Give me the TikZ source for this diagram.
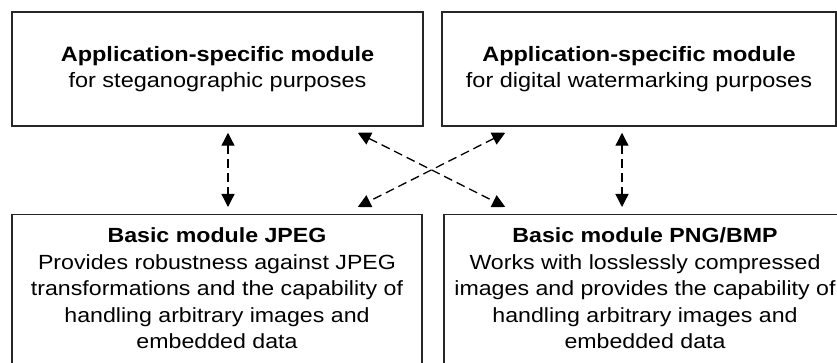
\documentclass[tikz,border=0pt]{standalone}
\usepackage{fontspec}
\setmainfont{Liberation Sans}[FakeStretch=1.13]
\usetikzlibrary{arrows.meta, positioning}
\tikzstyle{modbox} = [rectangle, draw=black!85, line width=1.5pt, align=center, inner xsep=0pt, font=\fontsize{20.5}{26.5}\selectfont]
\tikzstyle{appbox} = [modbox, minimum height=114pt, font=\fontsize{20.8}{26}\selectfont]
\tikzstyle{basebox} = [modbox, anchor=north, inner ysep=13pt, text depth=40pt]
\tikzstyle{link} = [draw, line width=1.3pt, dash pattern=on 9pt off 5pt, {Triangle[length=13pt,width=13pt]}-{Triangle[length=13pt,width=13pt]}]

\begin{document}
\begin{tikzpicture}[x=1pt, y=-1pt]
			\clip (0,0) rectangle (837,363);
			\node [appbox, minimum width=411pt] (steg) at (217.5, 69) {\textbf{Application-specific module}\\for steganographic purposes};
			\node [appbox, minimum width=394pt] (wmark) at (639, 69) {\textbf{Application-specific module}\\for digital watermarking purposes};
			\node [basebox, minimum width=410pt] (jpeg) at (217, 214) {\textbf{Basic module JPEG}\\Provides robustness against JPEG\\transformations and the capability of\\handling arbitrary images and\\embedded data};
			\node [basebox, minimum width=402pt] (png) at (645, 214) {\textbf{Basic module PNG/BMP}\\Works with losslessly compressed\\images and provides the capability of\\handling arbitrary images and\\embedded data};

			\path [link] ([xshift=10.5pt, yshift=-6pt]steg.south) -- ([xshift=11pt, yshift=7pt]jpeg.north);
			\path [link] ([xshift=-17pt, yshift=-6pt]wmark.south) -- ([xshift=-23pt, yshift=7pt]png.north);
			\path [link] ([xshift=-66pt, yshift=-6pt]steg.south east) -- ([xshift=62pt, yshift=7pt]png.north west);
			\path [link] ([xshift=64pt, yshift=-6pt]wmark.south west) -- ([xshift=-65pt, yshift=7pt]jpeg.north east);
\end{tikzpicture}
\end{document}
